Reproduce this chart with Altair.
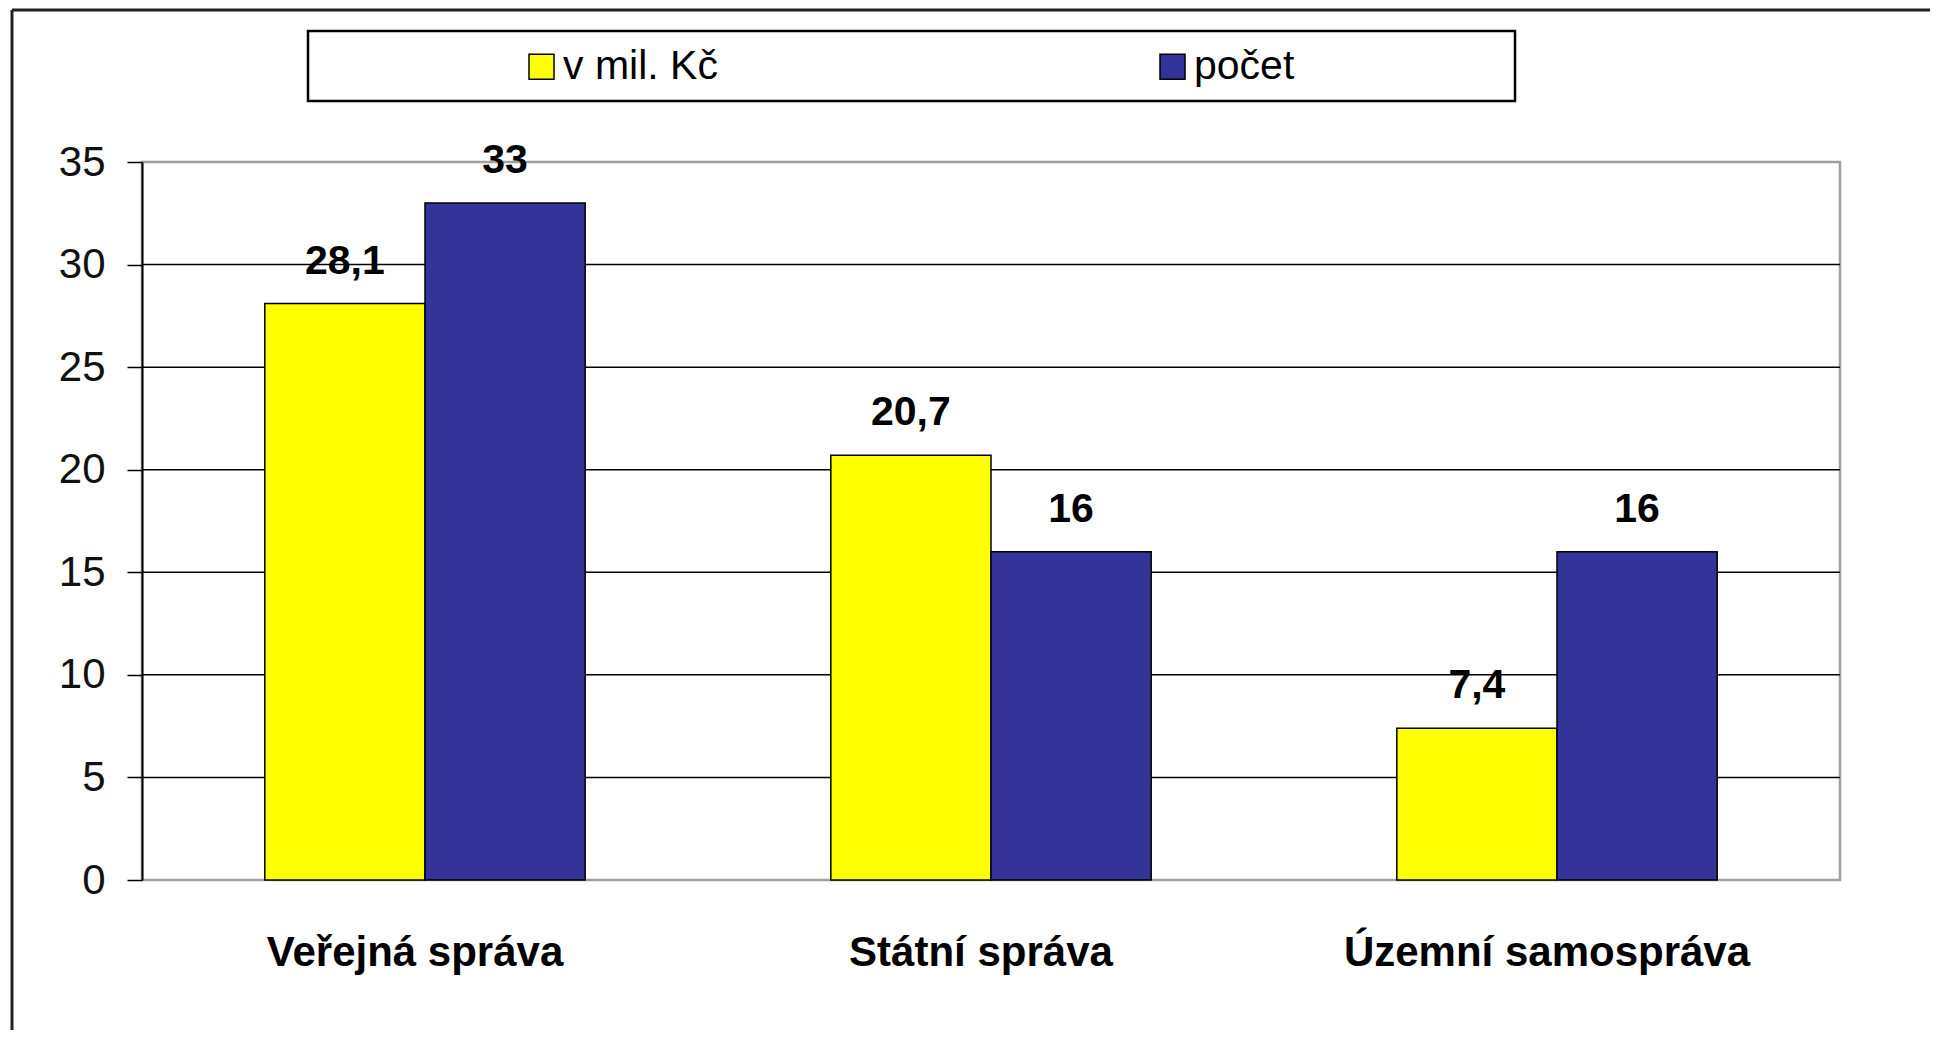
import altair as alt
import pandas as pd

categories = ["Veřejná správa", "Státní správa", "Územní samospráva"]
series_names = ["v mil. Kč", "počet"]
values_mil = [28.1, 20.7, 7.4]
values_count = [33, 16, 16]
y_ticks = [0, 5, 10, 15, 20, 25, 30, 35]
grid_values = [5, 10, 15, 20, 25, 30]
colors = ["#FFFF00", "#333399"]

rows = []
for i, c in enumerate(categories):
    for s, vals in zip(series_names, [values_mil, values_count]):
        v = vals[i]
        rows.append({"category": c, "series": s, "value": v,
                     "label": f"{v:g}".replace(".", ",")})
df = pd.DataFrame(rows)

FONT = "Liberation Sans"

x_enc = alt.X("category:N", sort=categories, title=None,
              scale=alt.Scale(paddingInner=0.434, paddingOuter=0.217),
              axis=alt.Axis(domain=False, ticks=False, labelAngle=0, labelLimit=0,
                            labelFont=FONT, labelFontSize=42, labelFontWeight="bold",
                            labelColor="black", labelPadding=62, translate=-9.5))
y_enc = alt.Y("value:Q", title=None,
              scale=alt.Scale(domain=[0, 35], nice=False),
              axis=alt.Axis(values=y_ticks, grid=False, domainColor="black", domainWidth=2,
                            tickColor="black", tickSize=15, tickWidth=1.5,
                            labelFont=FONT, labelFontSize=42, labelColor="#111111",
                            labelPadding=22))
xoff = alt.XOffset("series:N", sort=series_names)

grid = alt.Chart(pd.DataFrame({"g": grid_values})).mark_rule(
    color="black", strokeWidth=1.5
).encode(y=alt.Y("g:Q"))

bars = alt.Chart(df).mark_bar(stroke="black", strokeWidth=1.5).encode(
    x=x_enc, y=y_enc, xOffset=xoff,
    color=alt.Color("series:N", sort=series_names,
                    scale=alt.Scale(domain=series_names, range=colors),
                    legend=alt.Legend(title=None, orient="none", direction="horizontal",
                                      legendX=379, legendY=-116, padding=0,
                                      symbolType="square", symbolSize=625,
                                      symbolStrokeColor="black", symbolStrokeWidth=1.5,
                                      labelFont=FONT, labelFontSize=41, labelColor="black",
                                      labelOffset=1, columnPadding=434)),
)

labels = alt.Chart(df).mark_text(
    dy=-30, baseline="alphabetic", font=FONT, fontSize=41, fontWeight="bold", color="black"
).encode(x=x_enc, y=y_enc, xOffset=xoff, text="label:N")

one = alt.Data(values=[{"a": 1}])
legend_box = alt.Chart(one).mark_rect(
    fill="white", fillOpacity=0, stroke="black", strokeWidth=2.5
).encode(x=alt.value(166), x2=alt.value(1373), y=alt.value(-131), y2=alt.value(-61))

frame_top = alt.Chart(one).mark_rule(color="#222222", strokeWidth=3).encode(
    x=alt.value(-130), x2=alt.value(1900), y=alt.value(-152))
frame_left = alt.Chart(one).mark_rule(color="#222222", strokeWidth=3).encode(
    x=alt.value(-130), y=alt.value(-152), y2=alt.value(900))

chart = alt.layer(grid, bars, labels, legend_box, frame_top, frame_left).properties(
    width=1698, height=718,
    autosize=alt.AutoSizeParams(type="none"),
    padding={"left": 134, "top": 154, "right": 90, "bottom": 150},
    background="white",
).configure_view(stroke="#a0a0a0", strokeWidth=2.5)

chart.save("out.html", embed_options={"renderer": "svg", "actions": False})
